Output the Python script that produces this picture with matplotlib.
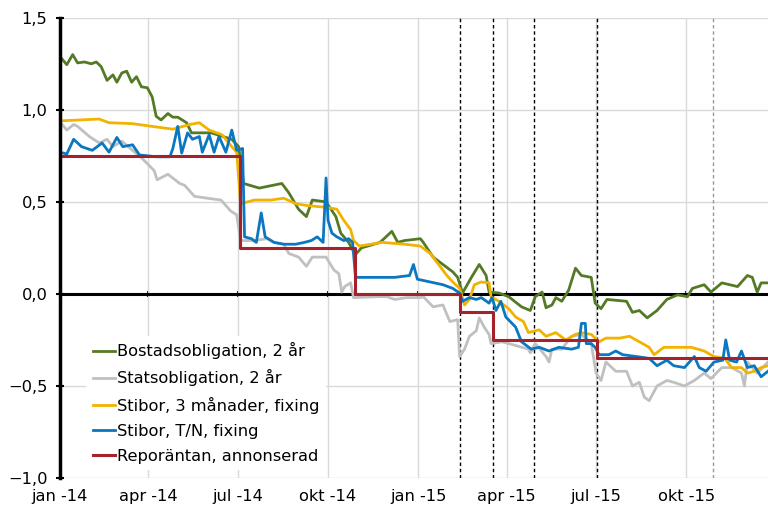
import matplotlib
matplotlib.use("Agg")
import matplotlib.pyplot as plt
import matplotlib.dates as mdates
import numpy as np
import pandas as pd

# Bostadsobligation, 2 år
bostad_dates = ["2014-01-01", "2014-01-08", "2014-01-14", "2014-01-19", "2014-01-26", "2014-02-02",
                "2014-02-07", "2014-02-12", "2014-02-18", "2014-02-24", "2014-02-28", "2014-03-05",
                "2014-03-10", "2014-03-15", "2014-03-20", "2014-03-25", "2014-03-31", "2014-04-05",
                "2014-04-09", "2014-04-14", "2014-04-21", "2014-04-26", "2014-05-01", "2014-05-10",
                "2014-05-15", "2014-06-04", "2014-06-25", "2014-07-02", "2014-07-07", "2014-07-23",
                "2014-08-15", "2014-08-22", "2014-09-01", "2014-09-09", "2014-09-15", "2014-09-29",
                "2014-10-09", "2014-10-14", "2014-10-22", "2014-10-27", "2014-10-30", "2014-11-04",
                "2014-11-23", "2014-12-05", "2014-12-11", "2014-12-18", "2015-01-03", "2015-01-06",
                "2015-01-16", "2015-01-26", "2015-02-05", "2015-02-10", "2015-02-15", "2015-02-24",
                "2015-03-04", "2015-03-11", "2015-03-14", "2015-03-24", "2015-04-03", "2015-04-16",
                "2015-04-25", "2015-04-30", "2015-05-07", "2015-05-11", "2015-05-17", "2015-05-21",
                "2015-05-27", "2015-06-03", "2015-06-10", "2015-06-16", "2015-06-26", "2015-06-30",
                "2015-07-06", "2015-07-12", "2015-08-01", "2015-08-07", "2015-08-14", "2015-08-22",
                "2015-09-01", "2015-09-11", "2015-09-22", "2015-10-02", "2015-10-07", "2015-10-19",
                "2015-10-26", "2015-11-06", "2015-11-22", "2015-12-02", "2015-12-07", "2015-12-12",
                "2015-12-16", "2015-12-23"]
bostad = [1.29, 1.245, 1.30, 1.255, 1.26, 1.25, 1.26, 1.235, 1.16, 1.19, 1.15, 1.20,
          1.21, 1.15, 1.18, 1.125, 1.12, 1.07, 0.965, 0.945, 0.98, 0.96, 0.96, 0.93,
          0.875, 0.875, 0.84, 0.80, 0.60, 0.575, 0.60, 0.55, 0.46, 0.42, 0.51, 0.50,
          0.42, 0.33, 0.28, 0.23, 0.22, 0.25, 0.28, 0.34, 0.28, 0.29, 0.30, 0.28,
          0.20, 0.16, 0.12, 0.09, 0.005, 0.09, 0.16, 0.10, 0.01, 0.005, -0.015, -0.07,
          -0.09, -0.015, 0.01, -0.075, -0.06, -0.02, -0.04, 0.02, 0.14, 0.10, 0.09, -0.05,
          -0.08, -0.03, -0.04, -0.10, -0.09, -0.13, -0.09, -0.03, -0.005, -0.015, 0.03, 0.05,
          0.01, 0.06, 0.04, 0.10, 0.09, 0.01, 0.06, 0.06]

# Statsobligation, 2 år
stats_dates = ["2014-01-01", "2014-01-08", "2014-01-15", "2014-01-19", "2014-01-31", "2014-02-10",
               "2014-02-18", "2014-02-24", "2014-03-05", "2014-03-16", "2014-03-25", "2014-04-07",
               "2014-04-10", "2014-04-21", "2014-05-03", "2014-05-08", "2014-05-18", "2014-05-31",
               "2014-06-14", "2014-06-24", "2014-06-30", "2014-07-04", "2014-07-18", "2014-07-31",
               "2014-08-07", "2014-08-17", "2014-08-22", "2014-09-01", "2014-09-09", "2014-09-15",
               "2014-09-29", "2014-10-07", "2014-10-12", "2014-10-15", "2014-10-18", "2014-10-24",
               "2014-10-27", "2014-11-21", "2014-11-30", "2014-12-08", "2014-12-20", "2015-01-03",
               "2015-01-06", "2015-01-16", "2015-01-26", "2015-02-02", "2015-02-10", "2015-02-12",
               "2015-02-17", "2015-02-22", "2015-03-01", "2015-03-04", "2015-03-09", "2015-03-14",
               "2015-03-16", "2015-03-27", "2015-04-10", "2015-04-23", "2015-04-25", "2015-04-30",
               "2015-05-11", "2015-05-14", "2015-05-17", "2015-05-27", "2015-06-06", "2015-06-16",
               "2015-06-26", "2015-07-01", "2015-07-06", "2015-07-11", "2015-07-21", "2015-08-01",
               "2015-08-07", "2015-08-14", "2015-08-19", "2015-08-24", "2015-09-01", "2015-09-11",
               "2015-09-18", "2015-09-29", "2015-10-09", "2015-10-19", "2015-10-26", "2015-11-06",
               "2015-11-16", "2015-11-26", "2015-11-29", "2015-12-02", "2015-12-12", "2015-12-23"]
stats = [0.935, 0.89, 0.92, 0.91, 0.855, 0.82, 0.84, 0.80, 0.83, 0.78, 0.74, 0.67,
         0.62, 0.65, 0.60, 0.59, 0.53, 0.52, 0.51, 0.45, 0.43, 0.29, 0.29, 0.30,
         0.28, 0.27, 0.22, 0.20, 0.15, 0.20, 0.20, 0.13, 0.11, 0.01, 0.04, 0.06,
         -0.02, -0.015, -0.015, -0.03, -0.02, -0.02, -0.015, -0.07, -0.06, -0.15, -0.14, -0.34,
         -0.30, -0.23, -0.20, -0.13, -0.18, -0.22, -0.27, -0.26, -0.28, -0.30, -0.32, -0.27,
         -0.34, -0.37, -0.30, -0.30, -0.23, -0.22, -0.27, -0.43, -0.47, -0.37, -0.42, -0.42,
         -0.50, -0.48, -0.56, -0.58, -0.50, -0.47, -0.48, -0.50, -0.47, -0.43, -0.46, -0.40,
         -0.40, -0.43, -0.50, -0.37, -0.43, -0.37]

# Stibor, 3 månader, fixing
stibor3m_dates = ["2014-01-01", "2014-02-10", "2014-02-20", "2014-03-16", "2014-04-05", "2014-04-26",
                  "2014-05-13", "2014-05-23", "2014-06-02", "2014-06-15", "2014-06-25", "2014-06-30",
                  "2014-07-04", "2014-07-18", "2014-08-04", "2014-08-17", "2014-08-29", "2014-09-10",
                  "2014-09-30", "2014-10-10", "2014-10-17", "2014-10-24", "2014-10-27", "2014-11-02",
                  "2014-11-25", "2014-12-18", "2015-01-03", "2015-01-13", "2015-01-23", "2015-01-30",
                  "2015-02-05", "2015-02-12", "2015-02-17", "2015-02-22", "2015-02-27", "2015-03-06",
                  "2015-03-14", "2015-03-16", "2015-03-24", "2015-04-03", "2015-04-10", "2015-04-18",
                  "2015-04-23", "2015-05-04", "2015-05-11", "2015-05-21", "2015-05-31", "2015-06-10",
                  "2015-06-16", "2015-06-26", "2015-07-04", "2015-07-11", "2015-07-25", "2015-08-04",
                  "2015-08-14", "2015-08-24", "2015-08-29", "2015-09-08", "2015-09-22", "2015-10-06",
                  "2015-10-19", "2015-10-29", "2015-11-09", "2015-11-16", "2015-11-26", "2015-12-02",
                  "2015-12-09", "2015-12-16", "2015-12-23"]
stibor3m = [0.94, 0.95, 0.93, 0.925, 0.91, 0.895, 0.92, 0.93, 0.89, 0.865, 0.80, 0.77,
            0.49, 0.51, 0.51, 0.52, 0.49, 0.48, 0.47, 0.46, 0.40, 0.35, 0.29, 0.26,
            0.28, 0.27, 0.26, 0.22, 0.15, 0.10, 0.065, 0.03, -0.06, -0.03, 0.05, 0.065,
            0.06, -0.015, -0.04, -0.08, -0.125, -0.15, -0.21, -0.195, -0.23, -0.21, -0.25, -0.22,
            -0.21, -0.22, -0.26, -0.24, -0.24, -0.23, -0.26, -0.29, -0.33, -0.29, -0.29, -0.29,
            -0.31, -0.34, -0.35, -0.40, -0.40, -0.43, -0.42, -0.40, -0.39]

# Stibor, T/N, fixing
tn_dates = ["2014-01-01", "2014-01-08", "2014-01-15", "2014-01-23", "2014-02-03", "2014-02-13",
            "2014-02-20", "2014-02-28", "2014-03-06", "2014-03-16", "2014-03-23", "2014-04-09",
            "2014-04-23", "2014-04-26", "2014-05-01", "2014-05-05", "2014-05-11", "2014-05-16",
            "2014-05-23", "2014-05-26", "2014-06-02", "2014-06-07", "2014-06-12", "2014-06-19",
            "2014-06-25", "2014-06-30", "2014-07-06", "2014-07-08", "2014-07-15", "2014-07-20",
            "2014-07-25", "2014-07-29", "2014-08-07", "2014-08-17", "2014-08-29", "2014-09-07",
            "2014-09-14", "2014-09-20", "2014-09-26", "2014-09-29", "2014-10-01", "2014-10-05",
            "2014-10-10", "2014-10-17", "2014-10-22", "2014-10-26", "2014-10-29", "2014-11-11",
            "2014-11-25", "2014-12-08", "2014-12-23", "2014-12-27", "2014-12-31", "2015-01-13",
            "2015-01-26", "2015-02-05", "2015-02-12", "2015-02-15", "2015-02-22", "2015-03-01",
            "2015-03-06", "2015-03-14", "2015-03-17", "2015-03-21", "2015-03-26", "2015-03-31",
            "2015-04-10", "2015-04-16", "2015-04-26", "2015-05-04", "2015-05-14", "2015-05-24",
            "2015-06-06", "2015-06-13", "2015-06-16", "2015-06-20", "2015-06-21", "2015-06-26",
            "2015-06-30", "2015-07-04", "2015-07-14", "2015-07-21", "2015-07-28", "2015-08-11",
            "2015-08-24", "2015-09-01", "2015-09-11", "2015-09-18", "2015-09-29", "2015-10-09",
            "2015-10-14", "2015-10-21", "2015-10-29", "2015-11-07", "2015-11-10", "2015-11-14",
            "2015-11-21", "2015-11-26", "2015-12-02", "2015-12-09", "2015-12-16", "2015-12-23"]
tn = [0.77, 0.76, 0.84, 0.80, 0.78, 0.82, 0.77, 0.85, 0.80, 0.81, 0.755, 0.745,
      0.745, 0.79, 0.91, 0.765, 0.875, 0.84, 0.855, 0.77, 0.865, 0.77, 0.855, 0.77,
      0.89, 0.78, 0.79, 0.31, 0.30, 0.28, 0.44, 0.31, 0.28, 0.27, 0.27, 0.28,
      0.29, 0.31, 0.28, 0.63, 0.40, 0.33, 0.31, 0.29, 0.30, 0.28, 0.09, 0.09,
      0.09, 0.09, 0.10, 0.16, 0.08, 0.065, 0.05, 0.03, 0.005, -0.04, -0.02, -0.03,
      -0.02, -0.05, -0.02, -0.09, -0.04, -0.125, -0.18, -0.26, -0.30, -0.29, -0.31, -0.29,
      -0.30, -0.29, -0.16, -0.16, -0.27, -0.27, -0.29, -0.33, -0.33, -0.31, -0.33, -0.34,
      -0.35, -0.39, -0.36, -0.39, -0.40, -0.34, -0.40, -0.42, -0.37, -0.36, -0.25, -0.36,
      -0.37, -0.31, -0.40, -0.39, -0.45, -0.42]

# Reporäntan, annonserad (steps at decision dates)
repo_dates = ["2014-01-01", "2014-07-03", "2014-10-28", "2015-02-12", "2015-03-18", "2015-07-02", "2015-12-23"]
repo = [0.75, 0.25, 0.0, -0.10, -0.25, -0.35, -0.35]

decision_dates = ["2015-02-12", "2015-03-18", "2015-04-29", "2015-07-02"]
later_decision = ["2015-10-28"]

quarter_ticks = ["2014-01-01", "2014-04-01", "2014-07-01", "2014-10-01",
                 "2015-01-01", "2015-04-01", "2015-07-01", "2015-10-01"]
quarter_labels = ["jan -14", "apr -14", "jul -14", "okt -14",
                  "jan -15", "apr -15", "jul -15", "okt -15"]
y_ticks = [-1.0, -0.5, 0.0, 0.5, 1.0, 1.5]

fs = 11.7
plt.rcParams['font.family'] = ['DejaVu Sans']
plt.rcParams['font.size'] = fs

fig = plt.figure(figsize=(7.68, 5.08), dpi=100)
ax = fig.add_axes([0.078, 0.059, 0.922, 0.906])

d = pd.to_datetime
lw = 2.0
ax.plot(d(bostad_dates), bostad, color="#557A26", lw=lw, label="Bostadsobligation, 2 år", zorder=3)
ax.plot(d(stats_dates), stats, color="#C0C0C0", lw=lw, label="Statsobligation, 2 år", zorder=3)
ax.plot(d(stibor3m_dates), stibor3m, color="#F2B300", lw=lw, label="Stibor, 3 månader, fixing", zorder=3)
ax.plot(d(tn_dates), tn, color="#0A77C0", lw=lw, label="Stibor, T/N, fixing", zorder=3)
ax.plot(d(repo_dates), repo, color="#A3222B", lw=2.2, drawstyle="steps-post",
        label="Reporäntan, annonserad", zorder=4)

for dd in decision_dates:
    ax.axvline(d(dd), color="black", lw=1.0, ls=(0, (2.5, 2)), zorder=2)
for dd in later_decision:
    ax.axvline(d(dd), color="#999999", lw=1.0, ls=(0, (2.5, 2)), zorder=2)

ax.axhline(0, color="black", lw=2.2, zorder=2.5)

ax.set_xlim(d("2014-01-01"), d("2015-12-23"))
ax.set_ylim(-1.0, 1.5)
ax.set_xticks(d(quarter_ticks))
ax.set_xticklabels(quarter_labels)
ax.set_yticks(y_ticks)
ax.set_yticklabels([f"{v:.1f}".replace(".", ",").replace("-", "\u2212") for v in y_ticks])
ax.grid(True, color="#D9D9D9", lw=1.0)
ax.set_axisbelow(True)

for s in ["top", "right", "bottom"]:
    ax.spines[s].set_visible(False)
ax.spines["left"].set_linewidth(2.5)
ax.spines["left"].set_zorder(5)
ax.tick_params(axis="y", direction="inout", length=6, width=1.5, pad=6, labelsize=fs)
ax.tick_params(axis="x", length=0, pad=8, labelsize=fs)

# small tick marks on the zero line
sec = ax.secondary_xaxis(0.4)
sec.set_xticks(d(quarter_ticks))
sec.tick_params(axis="x", direction="inout", length=5, width=1.5, labelbottom=False)
sec.spines["bottom"].set_visible(False)

leg = ax.legend(loc="upper left", bbox_to_anchor=(0.037, 0.309), frameon=True,
                fancybox=False, edgecolor="none", facecolor="white", framealpha=1,
                handlelength=1.4, handletextpad=0.1, labelspacing=0.62,
                borderaxespad=0, borderpad=0.4, fontsize=fs)
leg.set_zorder(6)

fig.savefig("out.png", dpi=100)
